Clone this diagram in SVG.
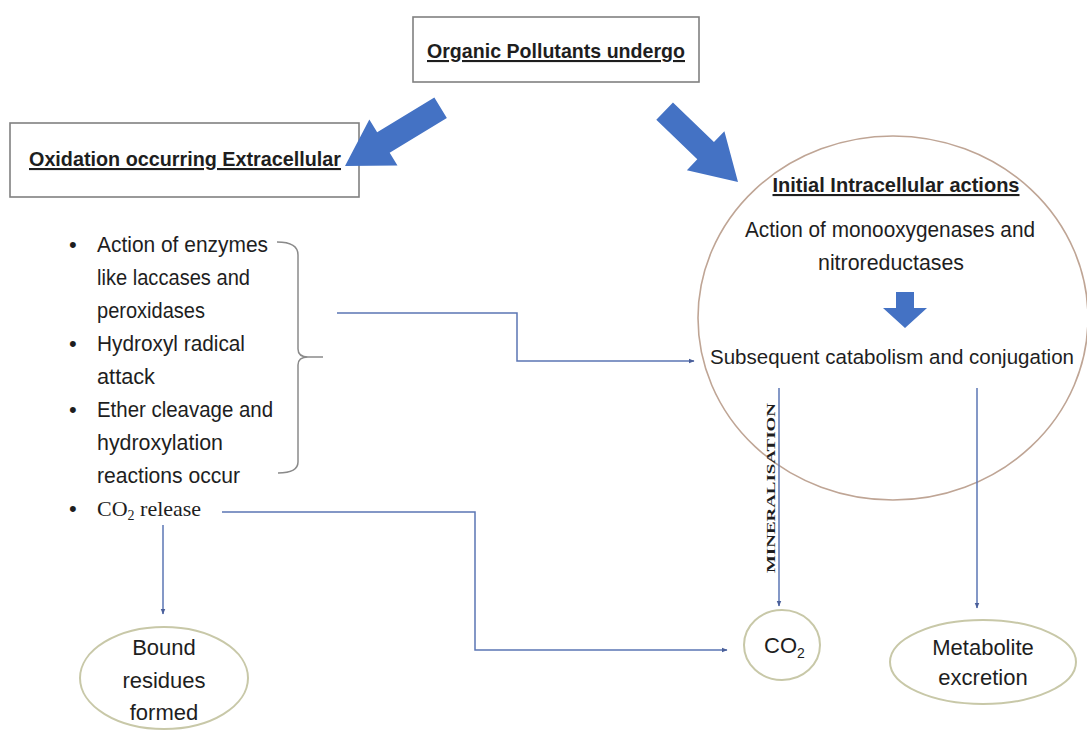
<svg xmlns="http://www.w3.org/2000/svg" width="1087" height="730" viewBox="0 0 1087 730">
<defs>
<style>
.t{font-family:"Liberation Sans",Arial,sans-serif;fill:#1e1e1e;font-size:22px}
.b{font-weight:bold;text-decoration:underline;font-size:21px}
.box{fill:#fff;stroke:#808080;stroke-width:1.6}
.ell{fill:#fff;stroke:#c8c8a8;stroke-width:2}
.con{fill:none;stroke:#5b76b4;stroke-width:1.5}
.blk{fill:#4472c4}
</style>
<marker id="ah" viewBox="0 0 10 10" refX="9" refY="5" markerWidth="6" markerHeight="6" orient="auto" markerUnits="userSpaceOnUse">
<path d="M0,1 L10,5 L0,9 Z" fill="#4a5f9a"/>
</marker>
</defs>
<rect width="1087" height="730" fill="#fff"/>

<g id="circle-intracellular">
<ellipse cx="893" cy="318" rx="195" ry="182" fill="none" stroke="#bfa595" stroke-width="1.6"/>
<text class="t b" x="896" y="192" text-anchor="middle" textLength="247" lengthAdjust="spacingAndGlyphs">Initial Intracellular actions</text>
<text class="t" x="890" y="237" text-anchor="middle" textLength="290" lengthAdjust="spacingAndGlyphs">Action of monooxygenases and</text>
<text class="t" x="891" y="270" text-anchor="middle" textLength="146" lengthAdjust="spacingAndGlyphs">nitroreductases</text>
<polygon class="blk" points="896,292 914,292 914,308 927,308 905,328 883,308 896,308"/>
<text class="t" x="710" y="364" style="font-size:20.5px" textLength="364" lengthAdjust="spacingAndGlyphs">Subsequent catabolism and conjugation</text>
</g>

<g id="node-top">
<rect class="box" x="413" y="17" width="286" height="65"/>
<text class="t b" x="427" y="58" textLength="258" lengthAdjust="spacingAndGlyphs">Organic Pollutants undergo</text>
</g>

<g id="node-extracellular">
<rect class="box" x="10" y="123" width="349" height="74"/>
<text class="t b" x="29" y="166" textLength="312" lengthAdjust="spacingAndGlyphs">Oxidation occurring Extracellular</text>
</g>

<g id="bullets">
<g class="t">
<text x="69" y="252">•</text><text x="97" y="252" textLength="171" lengthAdjust="spacingAndGlyphs">Action of enzymes</text>
<text x="97" y="285" textLength="153" lengthAdjust="spacingAndGlyphs">like laccases and</text>
<text x="97" y="318" textLength="108" lengthAdjust="spacingAndGlyphs">peroxidases</text>
<text x="69" y="351">•</text><text x="97" y="351" textLength="148" lengthAdjust="spacingAndGlyphs">Hydroxyl radical</text>
<text x="97" y="384" textLength="58" lengthAdjust="spacingAndGlyphs">attack</text>
<text x="69" y="417">•</text><text x="97" y="417" textLength="176" lengthAdjust="spacingAndGlyphs">Ether cleavage and</text>
<text x="97" y="450" textLength="126" lengthAdjust="spacingAndGlyphs">hydroxylation</text>
<text x="97" y="483" textLength="143" lengthAdjust="spacingAndGlyphs">reactions occur</text>
<text x="69" y="516">•</text>
</g>
<text x="97" y="516" style="font-family:'Liberation Serif','Times New Roman',serif;font-size:22px;fill:#1e1e1e">CO<tspan font-size="14" dy="4">2</tspan><tspan dy="-4"> release</tspan></text>
<path d="M277,242 Q298,242 298,255 L298,349 Q298,357 308,357 L323,357 M308,357 Q298,357 298,365 L298,462 Q298,473 278,473" fill="none" stroke="#8a8a8a" stroke-width="1.5"/>
</g>

<g id="node-bound">
<ellipse class="ell" cx="164" cy="678" rx="84" ry="51"/>
<text class="t" x="164" y="655" text-anchor="middle">Bound</text>
<text class="t" x="164" y="688" text-anchor="middle">residues</text>
<text class="t" x="164" y="720" text-anchor="middle">formed</text>
</g>

<g id="node-co2">
<ellipse class="ell" cx="782" cy="645" rx="38" ry="35"/>
<text class="t" x="764" y="653">CO<tspan font-size="14" dy="5">2</tspan></text>
</g>

<g id="node-metabolite">
<ellipse class="ell" cx="983" cy="662" rx="93" ry="42"/>
<text class="t" x="983" y="655" text-anchor="middle">Metabolite</text>
<text class="t" x="983" y="685" text-anchor="middle">excretion</text>
</g>

<g id="connectors">
<polygon class="blk" transform="translate(345,166) rotate(148.6)" points="-112,-12 -45,-12 -45,-27 0,0 -45,27 -45,12 -112,12"/>
<polygon class="blk" transform="translate(738,182) rotate(44)" points="-102,-12 -45,-12 -45,-27 0,0 -45,27 -45,12 -102,12"/>
<path class="con" d="M337,313 L517,313 L517,361 L694,361" marker-end="url(#ah)"/>
<path class="con" d="M222,512 L475,512 L475,650 L727,650" marker-end="url(#ah)"/>
<path class="con" d="M163,525 L163,614" marker-end="url(#ah)"/>
<path class="con" d="M779,388 L779,606" marker-end="url(#ah)"/>
<path class="con" d="M977,388 L977,608" marker-end="url(#ah)"/>
<text transform="translate(775,488) rotate(-90)" text-anchor="middle" textLength="170" lengthAdjust="spacingAndGlyphs" style="font-family:'Liberation Serif','Times New Roman',serif;font-weight:bold;font-size:13px;fill:#1e1e1e">MINERALISATION</text>
</g>
</svg>
